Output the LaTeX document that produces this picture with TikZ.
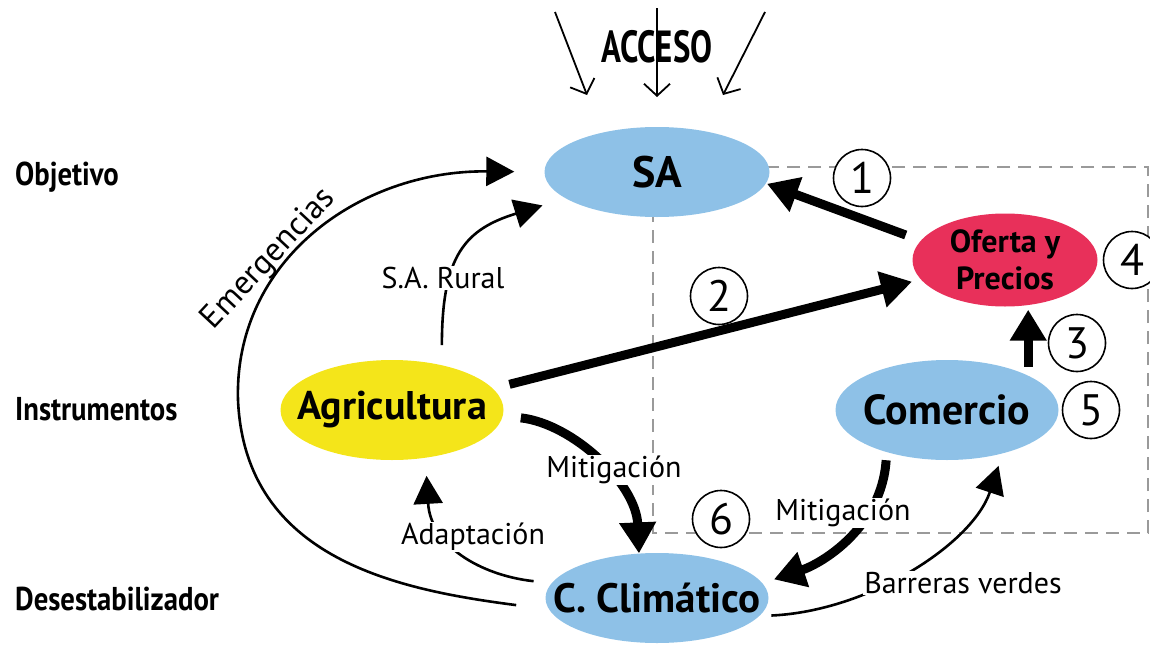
\documentclass[tikz,border=0pt]{standalone}
\usepackage{fontspec}
\setmainfont{PT Sans}
\usetikzlibrary{arrows.meta,shapes.geometric}
\definecolor{cblue}{HTML}{8EC1E7}
\definecolor{cred}{HTML}{E8305A}
\definecolor{cyellow}{HTML}{F4E51A}
\definecolor{cdash}{HTML}{9A9A9A}
\begin{document}
\begin{tikzpicture}[x=1pt,y=-1pt,
  ell/.style={ellipse, inner sep=0pt, draw=none},
  ntext/.style={font=\bfseries\fontsize{40}{42}\selectfont, inner sep=0pt},
  lab/.style={font=\fontsize{30}{32}\selectfont, inner sep=1pt},
  labw/.style={lab, fill=white},
  side/.style={font=\bfseries\fontsize{33}{36}\selectfont, inner sep=0pt},
  num/.style={circle, draw, line width=1.6pt, fill=white, minimum size=57pt, inner sep=0pt, font=\fontsize{44}{44}\selectfont},
  big/.style={line width=9pt, -{Triangle[length=31pt,width=35pt]}},
  thin/.style={line width=2.6pt, -{Triangle[length=28pt,width=29pt]}},
  acc/.style={line width=1.8pt, -{Straight Barb[length=12pt,width=26pt]}},
  dashbox/.style={draw=cdash, line width=2.6pt, dash pattern=on 13pt off 8pt}]
\useasboundingbox (0,0) rectangle (1150,645);

% dashed frame
\draw[dashbox] (653,167) rectangle (1148,533);

% ellipses
\node[ell, fill=cblue, minimum width=225pt, minimum height=90pt] (sa) at (657,172) {};
\node[ell, fill=cred, minimum width=185pt, minimum height=93pt] (of) at (1005,260) {};
\node[ell, fill=cyellow, minimum width=223pt, minimum height=100pt] (agri) at (392,410) {};
\node[ell, fill=cblue, minimum width=223pt, minimum height=100pt] (com) at (947,410) {};
\node[ell, fill=cblue, minimum width=223pt, minimum height=90pt] (cc) at (657,598) {};

\node[ntext, font=\bfseries\fontsize{44}{46}\selectfont] (saT) at (sa) {SA};
\node[ntext, font=\bfseries\fontsize{32}{37}\selectfont, align=center] (ofT) at (of) {Oferta y\\Precios};
\node[ntext] (agriT) at (agri) {Agricultura};
\node[ntext, font=\bfseries\fontsize{42}{44}\selectfont] (comT) at (com) {Comercio};
\node[ntext, font=\bfseries\fontsize{41}{44}\selectfont] (ccT) at (cc) {C. Climático};

% ACCESO
\coordinate (a1s) at (555,12); \coordinate (a1e) at (587,95);
\coordinate (a2s) at (657,8);  \coordinate (a2e) at (657,97);
\coordinate (a3s) at (765,12); \coordinate (a3e) at (723,95);
\draw[acc] (a1s) -- (a1e);
\draw[acc] (a2s) -- (a2e);
\draw[acc] (a3s) -- (a3e);
\node[side, font=\bfseries\fontsize{45}{48}\selectfont, anchor=base] (acceso) at (657,62) {\scalebox{0.73}[1]{ACCESO}};

% left labels
\node[side, anchor=base west] (obj) at (15,185) {\scalebox{0.87}[1]{Objetivo}};
\node[side, anchor=base west] (ins) at (15,420) {\scalebox{0.87}[1]{Instrumentos}};
\node[side, anchor=base west] (des) at (15,610) {\scalebox{0.87}[1]{Desestabilizador}};

% thick arrows
\draw[big, shorten <=16pt, shorten >=1pt] (of.167) -- (sa.-6);
\draw[big, shorten <=17pt, shorten >=9pt] (agri.12) -- (of.193);
\draw[big, shorten <=9pt, shorten >=3pt] (com.23) -- (com.23 |- of.south);
\draw[big, shorten <=18pt] (agri.-3) .. controls +(70,8) and +(-3,-70) .. (cc.112);
\draw[big, shorten <=8pt, shorten >=12pt] (com.-145) .. controls +(-5,75) and +(60,-20) .. (cc.8);

% thin arrows
\draw[thin, shorten <=12pt, shorten >=13pt] (cc.-10) .. controls +(110,-5) and +(-30,90) .. (com.-38);
\draw[thin, shorten <=18pt, shorten >=18pt] (cc.172) .. controls +(-72,-8) and +(5,87) .. (agri.-55);
\draw[thin, shorten <=20pt, shorten >=24pt] (agri.42) .. controls +(0,-110) and +(-100,31) .. (sa.196);
\draw[thin, shorten <=33pt, shorten >=30pt] (cc.186) .. controls (400,590) and (245,560) .. (238,400)
   .. controls (234,260) and (360,170) .. (sa.180);

% labels
\node[labw] (lmit1) at (614,470) {Mitigación};
\node[labw] (lmit2) at (843,513) {Mitigación};
\node[labw] (ladap) at (473,537) {Adaptación};
\node[labw] (lbarr) at (963,583) {Barreras verdes};
\node[labw] (lsar) at (443,278) {S.A. Rural};
\node[lab, rotate=47, font=\fontsize{33}{35}\selectfont] (lemer) at (269,259) {Emergencias};

% numbers
\node[num] (n1) at (862,178) {1};
\node[num] (n2) at (719,296) {2};
\node[num] (n3) at (1077,343) {3};
\node[num] (n4) at (1132,260) {4};
\node[num] (n5) at (1091,410) {5};
\node[num] (n6) at (721,519) {6};
\end{tikzpicture}
\end{document}
